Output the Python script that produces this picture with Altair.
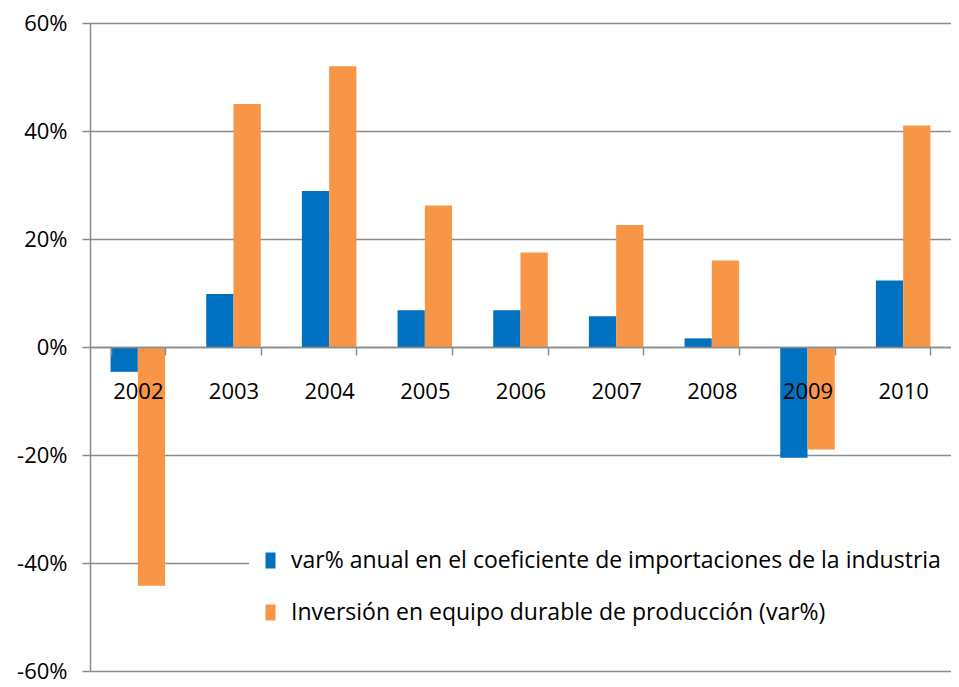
import altair as alt
import pandas as pd

years = ["2002", "2003", "2004", "2005", "2006", "2007", "2008", "2009", "2010"]
imports_coef = [-4.6, 9.8, 28.9, 6.8, 6.8, 5.7, 1.6, -20.5, 12.3]
investment = [-44.2, 45.0, 52.0, 26.2, 17.5, 22.6, 16.0, -19.0, 41.0]
series_names = [
    "var% anual en el coeficiente de importaciones de la industria",
    "Inversión en equipo durable de producción (var%)",
]
colors = ["#0070C0", "#F79646"]
y_ticks = [-60, -40, -20, 0, 20, 40, 60]

rows = []
for i, yr in enumerate(years):
    rows.append({"year": yr, "series": series_names[0], "value": imports_coef[i]})
    rows.append({"year": yr, "series": series_names[1], "value": investment[i]})
df = pd.DataFrame(rows)

FONT = "Open Sans"
GRID = "#8c8c8c"
H = 648

chart = alt.Chart(df).mark_bar().encode(
    x=alt.X(
        "year:N", sort=years, title=None,
        scale=alt.Scale(paddingInner=0.43, paddingOuter=0.215),
        axis=alt.Axis(
            orient="bottom", offset=-H // 2, labelAngle=0, labelFontSize=22,
            labelFont=FONT, labelColor="black", domainColor=GRID, domainWidth=1.5,
            tickColor=GRID, tickSize=8, tickWidth=1.5, tickBand="extent",
            labelPadding=26, zindex=1,
        ),
    ),
    xOffset=alt.XOffset("series:N", sort=series_names,
                        scale=alt.Scale(paddingInner=0, paddingOuter=0)),
    y=alt.Y(
        "value:Q", title=None,
        scale=alt.Scale(domain=[-60, 60], nice=False, zero=False),
        axis=alt.Axis(
            values=y_ticks, labelExpr="datum.value + '%'", labelFontSize=22,
            labelFont=FONT, labelColor="black", domainColor=GRID, domainWidth=1.5,
            tickColor=GRID, tickSize=8, tickWidth=1.5, gridColor=GRID,
            gridWidth=1.5, labelPadding=15,
        ),
    ),
    color=alt.Color(
        "series:N", sort=series_names,
        scale=alt.Scale(domain=series_names, range=colors),
        legend=alt.Legend(
            title=None, orient="none", legendX=159, legendY=516,
            fillColor="white", padding=10, labelFont=FONT, labelFontSize=23,
            labelColor="black", labelLimit=1000, labelOffset=9, rowPadding=28,
            symbolType="M-0.625,-1H0.625V1H-0.625Z", symbolSize=256,
            symbolStrokeWidth=0, symbolOpacity=1,
        ),
    ),
).properties(
    width=861, height=H,
    autosize=alt.AutoSizeParams(type="none"),
    padding={"left": 82, "top": 15, "right": 0, "bottom": 14},
    background="white",
).configure_view(stroke=None)

chart.save("out.html", embed_options={"renderer": "svg", "actions": False})
